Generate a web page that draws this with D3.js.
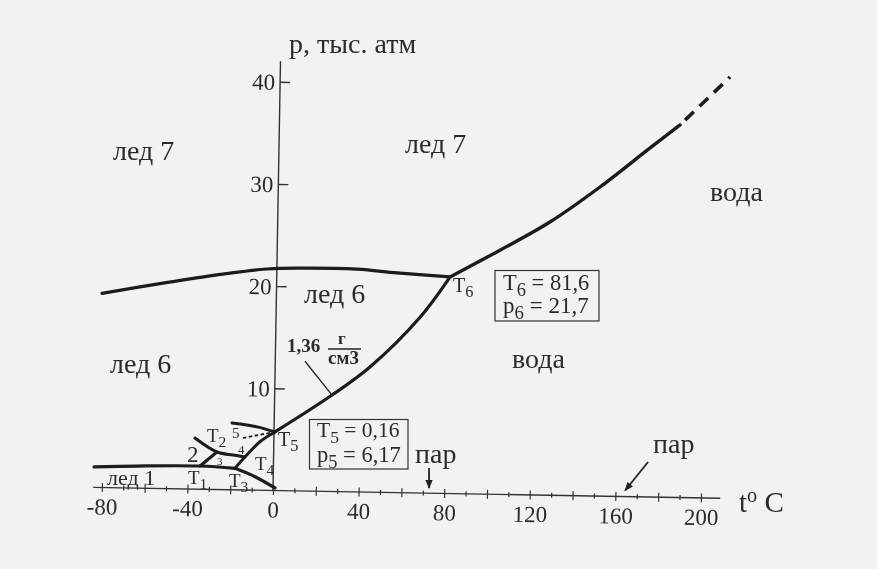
<!DOCTYPE html>
<html>
<head>
<meta charset="utf-8">
<script src="https://cdn.jsdelivr.net/npm/d3@7"></script>
<style>
  html, body { margin: 0; padding: 0; background: #eff4f2; }
  svg { display: block; font-family: "Liberation Serif", serif; filter: blur(0.45px); }
  text { fill: #2b2b2b; }
</style>
</head>
<body>
<svg id="chart" width="877" height="569"></svg>
<script>
// --- DATA (temperature in deg C, pressure in thousand atm) ---
const xTicks = d3.range(-80, 201, 10);
const xLabels = [-80, -40, 0, 40, 80, 120, 160, 200];
const yTicks = [10, 20, 30, 40];

const ice6WaterT = [0.4, 26.8, 44.3, 67.3, 81];
const ice6WaterP = [5.73, 9.44, 12.25, 17.2, 21.2];
const ice7WaterT = [81, 104.1, 127.2, 150.3, 173.4, 187.2];
const ice7WaterP = [21.2, 23.9, 26.74, 30.25, 34.16, 36.46];
const meltDashT = [187.2, 210.2];
const meltDashP = [36.46, 41.24];
const ice67T = [-81.5, -53.1, -21.9, -4.6, 9.4, 37.4, 56.2, 81];
const ice67P = [19.0, 20.1, 21.2, 21.66, 21.8, 21.8, 21.5, 21.2];
const ice1T = [-83.8, -63.8, -34.3, -18];
const ice1P = [2.0, 2.16, 2.27, 2.1];
const ice3T = [-18, -8.5, 0.9];
const ice3P = [2.1, 1.32, 0.25];
const t3t5T = [-18, -13.4, -6.5, 0.4];
const t3t5P = [2.1, 3.23, 4.75, 5.73];
const t1t2T = [-34.3, -26.5];
const t1t2P = [2.27, 3.67];
const ice2T = [-36.9, -26.5, -19, -13.4];
const ice2P = [5.0, 3.67, 3.4, 3.23];
const ice5T = [-19.7, -8, 0.4];
const ice5P = [6.54, 6.2, 5.73];
const dashT = [-14.5, 0.4];
const dashP = [5.09, 5.73];

// --- SCALES ---
const svg = d3.select("#chart");
const x = d3.scaleLinear().domain([-80, 200]).range([101.8, 701]);
const y = d3.scaleLinear().domain([0, 40]).range([490.5, 81.7]);

// the scanned page is slightly tilted, so the whole plot is turned around the origin
const plot = svg.append("g").attr("transform", `rotate(1 ${x(0)} ${y(0)})`);

const curve = (ts, ps, smooth = true) => d3.line()
    .x((d, i) => x(ts[i]))
    .y((d, i) => y(ps[i]))
    .curve(smooth ? d3.curveCatmullRom : d3.curveLinear)(ts);

const defs = svg.append("defs");
defs.append("marker").attr("id", "head")
    .attr("viewBox", "0 0 10 10").attr("refX", 9).attr("refY", 5)
    .attr("markerWidth", 10).attr("markerHeight", 9).attr("markerUnits", "userSpaceOnUse")
    .attr("orient", "auto")
    .append("path").attr("d", "M0,1 L10,5 L0,9 Z").attr("fill", "#222");

// --- AXES ---
const xAxis = plot.append("g").attr("transform", `translate(0,${y(0)})`)
    .call(d3.axisBottom(x).tickValues(xTicks).tickSize(0)
        .tickFormat(d => xLabels.includes(d) ? d : ""));
xAxis.select(".domain").remove();
xAxis.append("line").attr("x1", x(-84)).attr("x2", x(209)).attr("stroke", "#333").attr("stroke-width", 1.4);
xAxis.selectAll(".tick line")
    .attr("y1", d => d % 20 === 0 ? -4.5 : -2.5)
    .attr("y2", d => d % 20 === 0 ? 4.5 : 2.5)
    .attr("stroke", "#333").attr("stroke-width", 1.2);
xAxis.selectAll(".tick text")
    .attr("y", 11).attr("dy", 0).attr("dominant-baseline", "hanging")
    .style("font-family", "Liberation Serif").style("font-size", "23px");

const yAxis = plot.append("g").attr("transform", `translate(${x(0)},0)`)
    .call(d3.axisLeft(y).tickValues(yTicks).tickSize(0));
yAxis.select(".domain").remove();
yAxis.append("line").attr("y1", y(0)).attr("y2", y(42)).attr("stroke", "#333").attr("stroke-width", 1.4);
yAxis.selectAll(".tick line").attr("x1", 0).attr("x2", 10).attr("stroke", "#333").attr("stroke-width", 1.4);
yAxis.selectAll(".tick text")
    .attr("x", -5).attr("dy", "0.34em")
    .style("font-family", "Liberation Serif").style("font-size", "23px");

// --- PHASE BOUNDARIES ---
const thick = [
    [ice6WaterT, ice6WaterP, 3.2], [ice7WaterT, ice7WaterP, 3.4], [ice67T, ice67P, 3.2],
    [ice1T, ice1P, 3.2], [ice3T, ice3P, 3.2],
    [t3t5T, t3t5P, 3], [t1t2T, t1t2P, 3], [ice2T, ice2P, 3], [ice5T, ice5P, 3]
];
thick.forEach(([ts, ps, w]) => {
    plot.append("path").attr("d", curve(ts, ps)).attr("fill", "none")
        .attr("stroke", "#1c1c1c").attr("stroke-width", w).attr("stroke-linecap", "round");
});
plot.append("path").attr("d", curve(meltDashT, meltDashP, false)).attr("fill", "none")
    .attr("stroke", "#1c1c1c").attr("stroke-width", 3.6)
    .attr("stroke-dasharray", "12 8").attr("stroke-dashoffset", -7);
plot.append("path").attr("d", curve(dashT, dashP, false)).attr("fill", "none")
    .attr("stroke", "#1c1c1c").attr("stroke-width", 1.8).attr("stroke-dasharray", "3.5 2.5");

// --- LEADERS ---
const leader = (ts, ps, arrow) => {
    const p = plot.append("path").attr("d", curve(ts, ps, false)).attr("fill", "none")
        .attr("stroke", "#222").attr("stroke-width", arrow ? 1.8 : 1.3);
    if (arrow) p.attr("marker-end", "url(#head)");
};
leader([13.9, 26.8], [12.7, 9.44], false);
leader([72.7, 72.9], [2.47, 0.5], true);
leader([175, 164.5], [3.43, 0.6], true);

// --- TEXT ---
function label(parts, px, py, size, extra) {
    const t = svg.append("text").attr("x", px).attr("y", py).style("font-size", size + "px");
    if (extra) t.style("font-weight", extra);
    let shift = 0;
    parts.forEach(part => {
        const kind = part[1];
        const span = t.append("tspan").text(part[0]);
        const want = kind === "sub" ? size * 0.26 : kind === "sup" ? -size * 0.36 : 0;
        span.attr("dy", want - shift);
        if (kind) span.style("font-size", (kind === "sub" ? size * 0.82 : size * 0.7) + "px");
        shift = want;
    });
}
const plain = s => [[s]];
const indexed = (a, b, c = "") => c ? [[a], [b, "sub"], [c]] : [[a], [b, "sub"]];

label(plain("лед 7"), 113, 160, 28);
label(plain("лед 7"), 405, 153, 28);
label(plain("вода"), 710, 201, 28);
label(plain("лед 6"), 304, 303, 28);
label(plain("лед 6"), 110, 373, 28);
label(plain("вода"), 512, 368, 28);
label(plain("p, тыс. атм"), 289, 53, 28);

label(indexed("T", "6"), 453, 292, 20);
label(indexed("T", "5"), 278, 446, 20);
label(indexed("T", "4"), 255, 470, 19);
label(indexed("T", "3"), 229, 487, 19);
label(indexed("T", "1"), 188, 484, 19);
label(indexed("T", "2"), 207, 442, 19);
label(plain("2"), 187, 462, 23);
label(plain("3"), 217, 465, 11);
label(plain("4"), 238, 454, 13);
label(plain("5"), 232, 438, 15);
label(plain("лед 1"), 107, 485, 22);

label(indexed("T", "6", " = 81,6"), 503, 290, 22.5);
label(indexed("p", "6", " = 21,7"), 503, 313, 23);
label(indexed("T", "5", " = 0,16"), 317, 437, 21.5);
label(indexed("p", "5", " = 6,17"), 317, 462, 22.5);
svg.append("rect").attr("x", 495).attr("y", 270.5).attr("width", 104).attr("height", 50.5)
    .attr("fill", "none").attr("stroke", "#333").attr("stroke-width", 1.2);
svg.append("rect").attr("x", 309.5).attr("y", 419.5).attr("width", 98.5).attr("height", 49.5)
    .attr("fill", "none").attr("stroke", "#333").attr("stroke-width", 1.2);

label(plain("1,36"), 287, 352, 19, "bold");
label(plain("г"), 338, 344, 17, "bold");
label(plain("см3"), 328, 364, 19, "bold");
svg.append("line").attr("x1", 328).attr("x2", 361).attr("y1", 349).attr("y2", 349)
    .attr("stroke", "#222").attr("stroke-width", 1.3);

label(plain("пар"), 415, 463, 28);
label(plain("пар"), 653, 453, 28);
label([["t"], ["o", "sup"], [" C"]], 739, 512, 29);
</script>
</body>
</html>
